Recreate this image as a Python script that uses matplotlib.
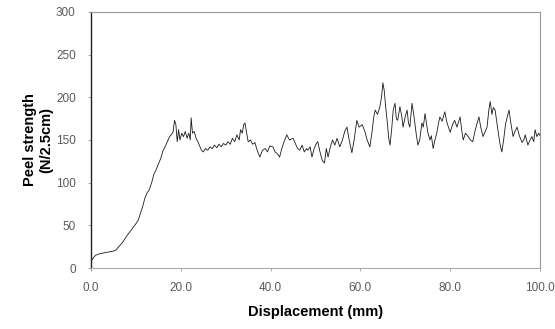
#!/usr/bin/env python3
"""Peel strength vs displacement curve."""

import matplotlib

matplotlib.use("Agg")
import matplotlib.pyplot as plt

# values (mm, N/2.5cm)
displacement = [
    0.0, 0.5, 1.0, 1.5, 2.0, 3.0, 4.0, 5.0, 5.5, 6.0, 7.0, 8.0, 9.0, 10.0,
    10.5, 11.0, 11.5, 12.0, 12.5, 13.0, 13.5, 14.0, 14.5, 15.0, 15.5, 16.0,
    16.5, 17.0, 17.5, 18.0, 18.3, 18.6, 18.9, 19.2, 19.5, 19.8, 20.2, 20.6,
    21.0, 21.4, 21.8, 22.1, 22.3, 22.6, 23.0, 23.4, 23.8, 24.2, 24.6, 25.0,
    25.5, 26.0, 26.5, 27.0, 27.5, 28.0, 28.5, 29.0, 29.5, 30.0, 30.5, 31.0,
    31.5, 32.0, 32.5, 33.0, 33.3, 33.7, 34.0, 34.3, 34.6, 35.0, 35.5, 36.0,
    36.5, 37.0, 37.6, 38.2, 38.8, 39.3, 39.8, 40.5, 41.0, 41.5, 42.0, 42.5,
    43.0, 43.6, 44.2, 45.0, 45.5, 46.0, 46.5, 47.0, 47.5, 48.0, 48.3, 48.8,
    49.2, 49.7, 50.2, 50.5, 51.0, 51.5, 52.0, 52.4, 52.8, 53.3, 53.8, 54.3,
    54.8, 55.4, 56.0, 56.5, 57.0, 57.5, 58.1, 58.6, 59.2, 59.7, 60.4, 61.0,
    61.5, 62.1, 62.6, 63.0, 63.3, 63.8, 64.3, 64.7, 65.0, 65.3, 65.6, 66.0,
    66.3, 66.6, 67.0, 67.3, 67.7, 68.0, 68.3, 68.8, 69.2, 69.5, 70.0, 70.4,
    70.7, 71.0, 71.5, 72.0, 72.4, 72.8, 73.2, 73.7, 74.0, 74.4, 74.7, 75.0,
    75.5, 75.8, 76.2, 76.6, 77.0, 77.4, 77.7, 78.2, 78.8, 79.2, 79.6, 80.0,
    80.5, 81.0, 81.5, 82.2, 82.6, 82.9, 83.4, 84.0, 84.5, 85.0, 85.5, 86.0,
    86.4, 86.8, 87.3, 87.8, 88.2, 88.6, 88.9, 89.3, 89.6, 90.0, 90.4, 90.8,
    91.2, 91.5, 91.9, 92.3, 92.7, 93.1, 93.5, 94.0, 94.4, 94.9, 95.4, 96.0,
    96.4, 96.7, 97.0, 97.3, 97.8, 98.2, 98.6, 98.9, 99.3, 99.7, 100.0,
]
peel_strength = [
    8, 12, 15, 16, 17, 18, 19, 20, 21, 24, 30, 38, 45, 52,
    56, 64, 72, 82, 88, 92, 100, 110, 115, 122, 128, 137,
    142, 148, 154, 157, 160, 173, 168, 148, 162, 150, 158, 154,
    160, 152, 158, 150, 176, 158, 160, 152, 148, 143, 138, 136,
    140, 138, 142, 140, 144, 141, 145, 142, 146, 144, 148, 145,
    152, 148, 156, 150, 162, 158, 168, 170, 160, 148, 150, 145,
    147, 138, 130, 138, 140, 136, 143, 142, 136, 134, 130, 140,
    148, 156, 150, 152, 146, 140, 138, 144, 136, 140, 138, 142,
    130, 140, 146, 148, 136, 126, 123, 140, 130, 142, 150, 144,
    152, 142, 150, 160, 165, 150, 135, 150, 173, 165, 168, 160,
    150, 142, 160, 178, 185, 180, 188, 200, 217, 208, 190, 170,
    152, 144, 165, 185, 193, 175, 173, 189, 178, 165, 178, 185,
    170, 165, 193, 175, 158, 144, 150, 170, 165, 181, 170, 159,
    150, 155, 140, 150, 158, 170, 177, 172, 183, 172, 165, 159,
    168, 173, 165, 177, 160, 150, 158, 154, 150, 148, 160, 170,
    177, 165, 154, 160, 165, 185, 195, 180, 188, 185, 170, 155,
    142, 136, 150, 168, 177, 185, 170, 154, 160, 165, 155, 147,
    150, 156, 150, 144, 150, 154, 148, 162, 154, 158, 155,
]
x_ticks = [0, 20, 40, 60, 80, 100]
y_ticks = [0, 50, 100, 150, 200, 250, 300]

plt.rcParams["font.family"] = ["Liberation Sans", "DejaVu Sans"]

fig = plt.figure(figsize=(5.55, 3.29), dpi=100)
ax = fig.add_axes([0.164, 0.185, 0.809, 0.779])

ax.plot(displacement, peel_strength, color="#1a1a1a", linewidth=0.6)

ax.set_xlim(0, 100)
ax.set_ylim(0, 300)
ax.set_xticks(x_ticks, [f"{v:.1f}" for v in x_ticks])
ax.set_yticks(y_ticks, [str(v) for v in y_ticks])
ax.tick_params(axis="both", labelsize=8.5, labelcolor="#5a5a5a", color="#999999",
               length=2, width=0.6)
ax.tick_params(axis="x", pad=8)
ax.tick_params(axis="y", pad=9)

ax.spines["left"].set_color("#222222")
ax.spines["left"].set_linewidth(1.0)
ax.spines["bottom"].set_color("#aaaaaa")
ax.spines["bottom"].set_linewidth(0.8)
for side in ("top", "right"):
    ax.spines[side].set_color("#999999")
    ax.spines[side].set_linewidth(0.8)
    ax.spines[side].set_linestyle((0, (1, 1)))

ax.set_xlabel("Displacement (mm)", fontsize=10.5, fontweight="bold", labelpad=8)
ax.set_ylabel("Peel strength\n(N/2.5cm)", fontsize=10.5, fontweight="bold",
              labelpad=2)

fig.savefig("out.png", dpi=100)
